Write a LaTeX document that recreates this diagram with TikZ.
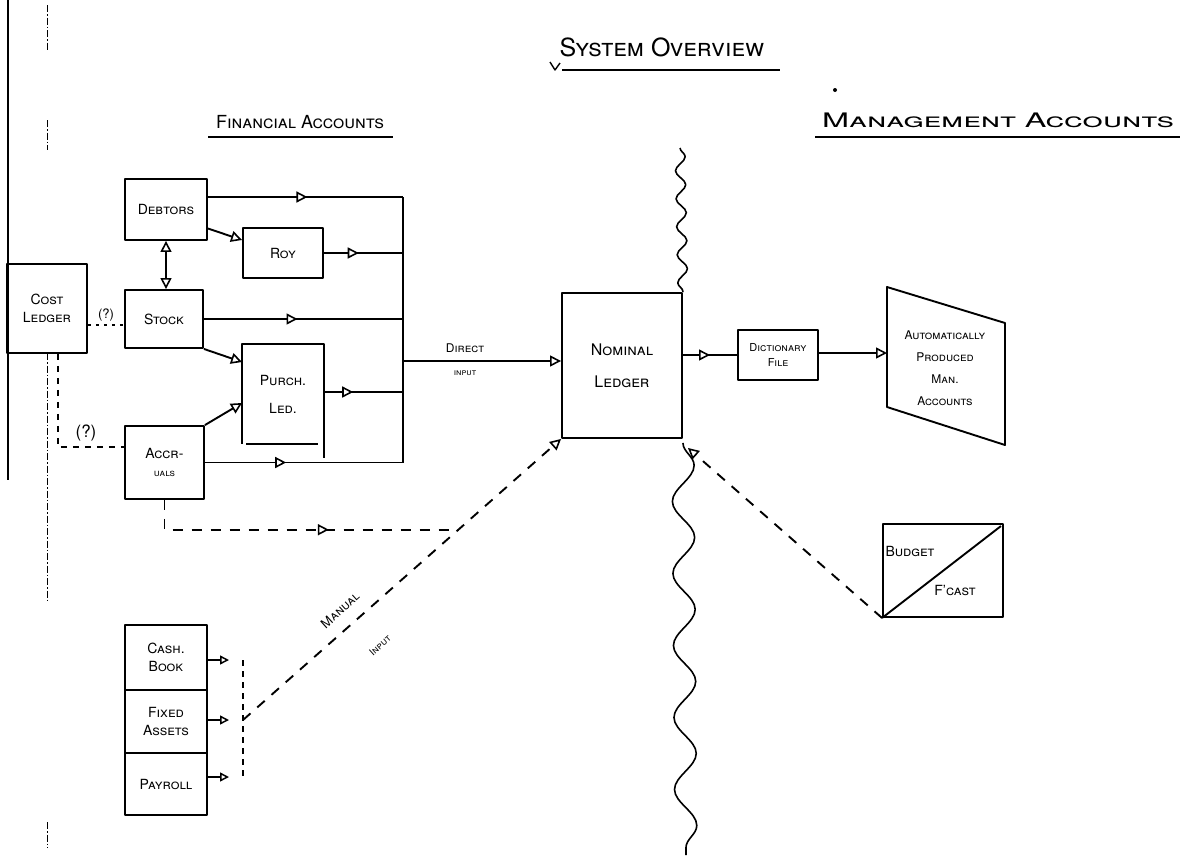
\documentclass[tikz,border=0pt]{standalone}
\usepackage{fontspec}
\setmainfont{TeX Gyre Heros}
\usepackage{graphicx}
\usetikzlibrary{arrows.meta,decorations.markings,decorations.pathmorphing,calc}
\tikzset{
  tri/.tip={Triangle[fill=white,length=11pt,width=11pt,line width=1.6pt]},
  stri/.tip={Triangle[fill=white,length=9pt,width=9pt,line width=1.5pt]},
  midtri/.style={postaction={decorate},decoration={markings,mark=at position #1 with {\arrow{tri}}}},
  midtri/.default=0.5,
  box/.style={draw,rectangle,line width=1.9pt,align=center,inner sep=1pt,font=\scshape\fontsize{14}{18}\selectfont},
  lbl/.style={font=\scshape\fontsize{14}{18}\selectfont,align=center,inner sep=1pt},
  dsh/.style={dash pattern=on 10pt off 9pt},
  dotln/.style={line width=1.3pt,dash pattern=on 3pt off 5pt},
  marginln/.style={line width=1pt,dash pattern=on 7pt off 2pt on 1.5pt off 2pt},
  wavytop/.style={decorate,decoration={snake,segment length=28pt,amplitude=5pt}},
  wavybot/.style={decorate,decoration={snake,segment length=72pt,amplitude=11pt}},
}
\begin{document}
\begin{tikzpicture}[x=1pt,y=-1pt,line width=1.9pt,line join=round]
\fill[white] (0,0) rectangle (1195,855);
\useasboundingbox (0,0) rectangle (1195,855);

% headings
\node[font=\scshape\fontsize{25}{28}\selectfont,inner sep=0pt] (title) at (662,47) {System Overview};
\draw (562,70) -- (780,70);
\draw[line width=1.4pt] (550,62) -- (555,70) -- (560,63);
\fill (835,90) circle (2pt);
\node[font=\scshape\fontsize{18}{20}\selectfont,inner sep=0pt] (fin) at (300,122) {Financial Accounts};
\draw (208,137) -- (393,137);
\node[font=\scshape\fontsize{20}{22}\selectfont,inner sep=0pt] (mgmt) at (998,120) {\scalebox{1.62}[1]{Management Accounts}};
\draw (815,137) -- (1180,137);

% margin lines
\draw[line width=1.3pt] (8,0) -- (8,480);
\draw[marginln] (47,5) -- (47,50);
\draw[marginln] (47,120) -- (47,150);
\draw[marginln] (47,353) -- (47,600);
\draw[marginln] (47,822) -- (47,848);

% boxes
\node[box,minimum width=80pt,minimum height=89pt] (costledger) at (47,308.5) {Cost\\Ledger};
\node[box,minimum width=82pt,minimum height=61pt] (debtors) at (166,209.5) {Debtors};
\node[box,minimum width=80pt,minimum height=50pt] (roy) at (283,253) {Roy};
\node[box,minimum width=78pt,minimum height=58pt] (stock) at (164,319) {Stock};
\node[lbl,minimum width=80pt,minimum height=98pt] (purch) at (283,394) {Purch.\\[10pt]Led.};
\draw (purch.south west) -- (purch.north west) -- (purch.north east) -- ([yshift=-14pt]purch.south east);
\draw ([xshift=4pt]purch.south west) -- ([xshift=-6pt]purch.south east);
\node[box,minimum width=79pt,minimum height=73pt] (accruals) at (164.5,462.5) {Accr-\\{\fontsize{10}{12}\selectfont uals}};
\node[box,minimum width=120pt,minimum height=145pt,font=\scshape\fontsize{16}{20}\selectfont] (nominal) at (622,365.5) {Nominal\\[12pt]Ledger};
\node[box,minimum width=80pt,minimum height=50pt,font=\scshape\fontsize{11}{15}\selectfont] (dict) at (778,355) {Dictionary\\File};
\coordinate (tl) at (887,287);
\coordinate (tr) at (1005,323);
\coordinate (br) at (1005,445);
\coordinate (bl) at (887,407);
\draw (tl) -- (tr) -- (br) -- (bl) -- cycle;
\node[lbl,font=\scshape\fontsize{12}{22}\selectfont] (autom) at (945,368) {Automatically\\Produced\\Man.\\Accounts};
\node[box,minimum width=120pt,minimum height=93pt] (budget) at (943,570.5) {};
\draw (budget.south west) -- ([xshift=-3pt,yshift=-3pt]budget.north east);
\node[lbl] (budgetl) at (910,551) {Budget};
\node[lbl] (fcast) at (955,590) {F'cast};
\node[box,minimum width=82pt,minimum height=65pt] (cash) at (166,657.5) {Cash.\\Book};
\node[box,minimum width=82pt,minimum height=63pt] (fixed) at (166,721.5) {Fixed\\Assets};
\node[box,minimum width=82pt,minimum height=62pt] (payroll) at (166,784) {Payroll};

% bus
\coordinate (busD) at (403,197);
\coordinate (busA) at (403,463);
\coordinate (busO) at (403,361);
\draw (busD) -- (busA);
\draw[midtri=0.51] (debtors.east |- busD) -- (busD);
\draw[-tri] ([yshift=-19pt]debtors.east) -- ([yshift=13pt]roy.west);
\draw[midtri=0.44] (roy.east) -- (roy.east -| busD);
\draw[tri-tri] (debtors.south) -- (debtors.south |- stock.north);
\draw[midtri=0.47] (stock.east) -- (stock.east -| busD);
\draw[-tri] (stock.south east) -- ([yshift=32pt]purch.west);
\draw[-tri] (accruals.north east) -- ([yshift=-9pt]purch.west);
\coordinate (pe) at ([yshift=2pt]purch.east);
\draw[midtri=0.37] (pe) -- (pe -| busD);
\draw[midtri=0.41] (accruals.east) -- (accruals.east -| busD);
\draw[-tri] (busO) -- (busO -| nominal.west);
\node[lbl,font=\scshape\fontsize{12}{14}\selectfont] (direct) at (465,348) {Direct};
\node[lbl,font=\scshape\fontsize{9}{11}\selectfont] (dinput) at (465,373) {input};
\draw[midtri=0.5] (dict.west -| nominal.east) -- (dict.west);
\coordinate (apin) at (887,353);
\draw[-tri] (dict.east |- apin) -- (apin);

% wavy divider
\coordinate (wt) at (680,148);
\coordinate (wb) at (686,855);
\draw[line width=1.6pt,wavytop] (wt) -- (nominal.north east);
\draw[line width=1.6pt,wavybot] ([yshift=-4pt]nominal.south east) -- (wb);

% dashed inputs
\coordinate (mstart) at (243,720);
\coordinate (mc) at (243,660);
\coordinate (mp) at (243,777);
\draw[dsh,-tri] (mstart) -- (nominal.south west);
\coordinate (mj) at ($(mstart)!0.677!(nominal.south west)$);
\draw[dsh,midtri=0.6] (accruals.south) -- (accruals.south |- mj) -- (mj);
\draw[dsh,-tri] (budget.south west) -- ([xshift=5pt,yshift=-9pt]nominal.south east);
\node[lbl,rotate=42,font=\scshape\fontsize{13}{15}\selectfont] (manual) at (340,610) {Manual};
\node[lbl,rotate=42,font=\scshape\fontsize{10}{12}\selectfont] (minput) at (380,645) {Input};
\draw[-stri] (cash.east |- mc) -- ([xshift=-14pt]mc);
\draw[-stri] (fixed.east |- mstart) -- ([xshift=-14pt]mstart);
\draw[-stri] (payroll.east |- mp) -- ([xshift=-14pt]mp);
\draw[line width=1.6pt,dash pattern=on 6pt off 5pt] (mc) -- (mp);

% cost ledger links
\coordinate (s1) at ([yshift=-6pt]stock.west);
\draw[dotln] (s1 -| costledger.east) -- node[above=0pt,font=\fontsize{13}{15}\selectfont] (q1) {(?)} (s1);
\coordinate (c2) at ([xshift=11pt]costledger.south);
\coordinate (c3) at (58,447);
\draw[dotln,dash pattern=on 6pt off 6pt] (c2) -- (c3) -- (c3 -| accruals.west);
\node[font=\fontsize{17}{19}\selectfont] (q2) at (86,433) {(?)};
\end{tikzpicture}
\end{document}
